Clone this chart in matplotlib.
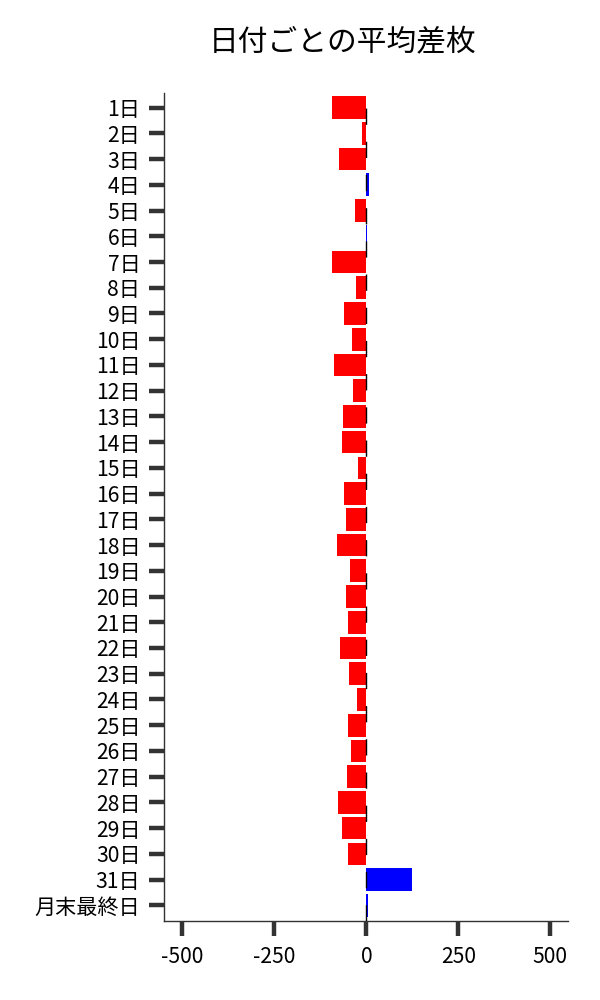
import matplotlib.pyplot as plt
import numpy as np

plt.rcParams['font.family'] = ['Noto Sans CJK JP', 'DejaVu Sans']
plt.rcParams['axes.unicode_minus'] = False

# 日付ごとの平均差枚
days = [f'{d}日' for d in range(1, 32)] + ['月末最終日']
avg_diff = [-94, -13, -75, 8, -32, 1, -94, -29, -62, -40,
            -89, -37, -64, -67, -24, -62, -56, -81, -45, -56,
            -51, -72, -48, -26, -51, -43, -53, -78, -67, -51,
            123, 4]

fig = plt.figure(figsize=(6, 10), dpi=100)
ax = fig.add_axes([0.2733, 0.079, 0.6734, 0.8283])

pos = np.arange(len(days))
colors = ['#0000FF' if v > 0 else '#FF0000' for v in avg_diff]
ax.barh(pos, avg_diff, height=0.88, color=colors, zorder=2)
ax.axvline(0, color='black', lw=1, linestyle=(0, (11.7, 12.2)), zorder=3)

ax.set_yticks(pos)
ax.set_yticklabels(days, fontsize=15.2)
ax.set_ylim(len(days) - 1 + 0.61, -0.58)
ax.set_xlim(-550, 548)
ax.set_xticks([-500, -250, 0, 250, 500])
ax.tick_params(axis='x', labelsize=15.2, length=11, width=3.2, color='#333333', pad=7)
ax.tick_params(axis='y', length=11, width=3.2, color='#333333', pad=6)

for s in ['top', 'right']:
    ax.spines[s].set_visible(False)
for s in ['left', 'bottom']:
    ax.spines[s].set_color('#333333')
    ax.spines[s].set_linewidth(1)

fig.text(0.571, 0.957, '日付ごとの平均差枚', ha='center', va='center', fontsize=21.4)

fig.savefig('out.png', dpi=100)
